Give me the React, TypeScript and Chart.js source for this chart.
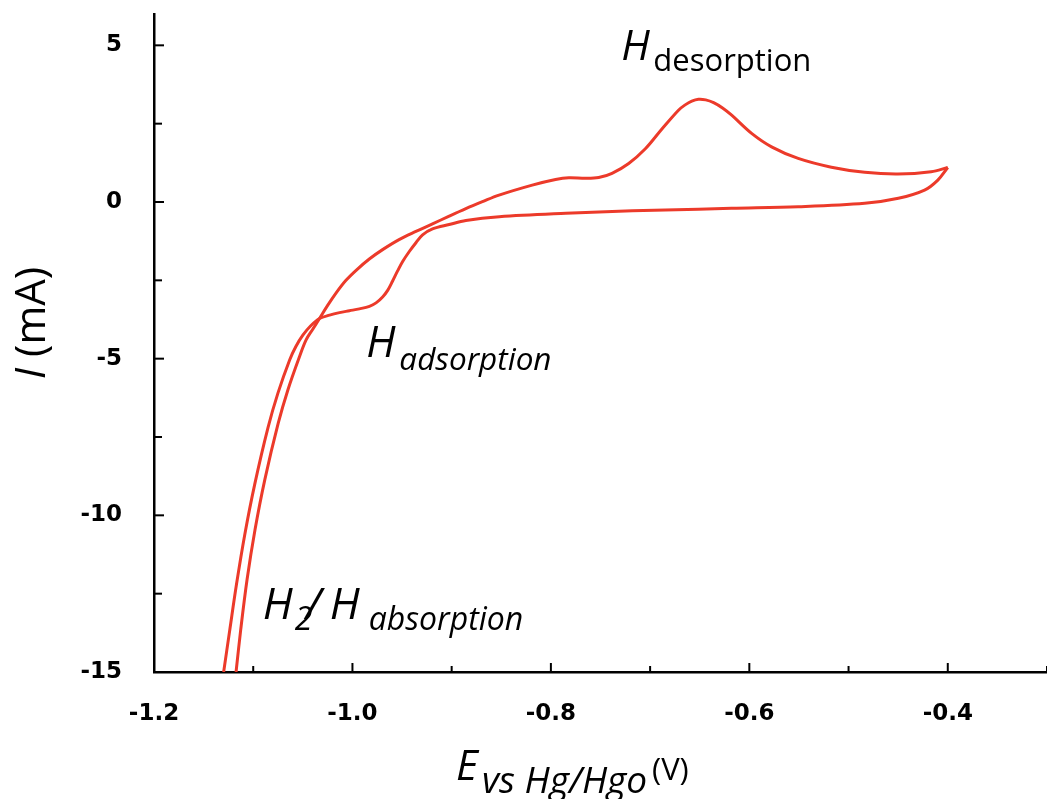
import React, { useEffect, useRef } from 'react';
import { Chart, registerables } from 'chart.js';

Chart.register(...registerables);

// ---- Data ----
// Cathodic sweep: from the -0.4 V vertex towards negative potentials
const cathodicE = [
  -0.400, -0.410, -0.4234, -0.4498, -0.4837, -0.5508, -0.618, -0.6513, -0.718, -0.785,
  -0.852, -0.8857, -0.9025, -0.9193, -0.9293, -0.936, -0.9427, -0.9494, -0.9545, -0.9595,
  -0.9645, -0.9696, -0.9762, -0.9829, -0.993, -1.003, -1.0131, -1.0231, -1.0332, -1.042,
  -1.050, -1.057, -1.0633, -1.0751, -1.0851, -1.0985, -1.1085, -1.1169, -1.1236, -1.1298,
];
const cathodicI = [
  1.10, 0.70, 0.38, 0.12, -0.04, -0.15, -0.20, -0.23, -0.28, -0.36,
  -0.47, -0.59, -0.72, -0.86, -1.05, -1.30, -1.58, -1.90, -2.20, -2.52,
  -2.82, -3.03, -3.22, -3.33, -3.41, -3.47, -3.53, -3.61, -3.72, -3.95,
  -4.25, -4.61, -5.04, -6.10, -7.20, -9.01, -10.61, -12.21, -13.65, -15.0,
];
// Anodic sweep: from -15 mA back to the -0.4 V vertex
const anodicE = [
  -1.1173, -1.1126, -1.1062, -1.0982, -1.0883, -1.0748, -1.0650, -1.0533, -1.0467, -1.0400,
  -1.0332, -1.025, -1.0164, -1.0065, -0.9963, -0.983, -0.9696, -0.953, -0.936, -0.9193,
  -0.9025, -0.8857, -0.869, -0.8523, -0.8188, -0.7953, -0.7819, -0.7651, -0.7518, -0.7384,
  -0.7216, -0.7048, -0.6881, -0.6714, -0.6647, -0.658, -0.6513, -0.644, -0.636, -0.627,
  -0.6178, -0.5977, -0.5776, -0.5508, -0.5173, -0.4837, -0.4503, -0.4168, -0.400,
];
const anodicI = [
  -15.0, -13.65, -12.05, -10.46, -8.86, -7.06, -5.99, -4.93, -4.40, -4.06,
  -3.72, -3.30, -2.90, -2.50, -2.18, -1.82, -1.52, -1.20, -0.94, -0.70,
  -0.45, -0.21, 0.01, 0.22, 0.54, 0.72, 0.775, 0.756, 0.78, 0.915,
  1.23, 1.70, 2.33, 2.93, 3.10, 3.22, 3.28, 3.26, 3.17, 3.00,
  2.77, 2.19, 1.76, 1.39, 1.11, 0.947, 0.893, 0.966, 1.10,
];

// Axis ranges and ticks
const X_MIN = -1.2;
const X_MAX = -0.3;
const X_STEP = 0.1;
const Y_MIN = -15;
const Y_MAX = 6;
const Y_STEP = 2.5;

const LINE_COLOR = 'rgb(236,58,42)';
const TICK_FONT = { family: 'DejaVu Sans', weight: 'bold' as const, size: 23 };

const isMajorX = (v: number) => Math.abs(Math.round(v * 10)) % 2 === 0;
const isMajorY = (v: number) => Math.abs(Math.round(v * 10)) % 50 === 0;

type Run = { text: string; font: string; dy?: number; gap?: number; at?: number };

function drawRuns(ctx: CanvasRenderingContext2D, x0: number, base: number, runs: Run[]) {
  let x = x0;
  ctx.textAlign = 'left';
  ctx.textBaseline = 'alphabetic';
  for (const r of runs) {
    if (r.at !== undefined) x = x0 + r.at;
    x += r.gap || 0;
    ctx.font = r.font;
    ctx.fillText(r.text, x, base + (r.dy || 0));
    x += ctx.measureText(r.text).width;
  }
}

function runsWidth(ctx: CanvasRenderingContext2D, runs: Run[]) {
  let w = 0;
  for (const r of runs) {
    ctx.font = r.font;
    w += ctx.measureText(r.text).width + (r.gap || 0);
  }
  return w;
}

const FONT = '"Open Sans"';

const decorPlugin = {
  id: 'decor',
  afterDraw(chart: any) {
    const { ctx, chartArea } = chart;
    const xs = chart.scales.x;
    const ys = chart.scales.y;
    ctx.save();
    // inward tick marks
    ctx.strokeStyle = '#000';
    ctx.lineWidth = 2;
    xs.ticks.forEach((t: any) => {
      const px = xs.getPixelForValue(t.value);
      if (px <= chartArea.left + 2) return;
      const len = isMajorX(t.value) ? 9 : 6;
      ctx.beginPath();
      ctx.moveTo(px, chartArea.bottom);
      ctx.lineTo(px, chartArea.bottom - len);
      ctx.stroke();
    });
    ys.ticks.forEach((t: any) => {
      const py = ys.getPixelForValue(t.value);
      if (py >= chartArea.bottom - 2) return;
      const len = isMajorY(t.value) ? 10 : 8;
      ctx.beginPath();
      ctx.moveTo(chartArea.left, py);
      ctx.lineTo(chartArea.left + len, py);
      ctx.stroke();
    });

    ctx.fillStyle = '#000';
    // annotations
    drawRuns(ctx, xs.getPixelForValue(-0.729), ys.getPixelForValue(4.53), [
      { text: 'H', font: `italic 42px ${FONT}` },
      { text: 'desorption', font: `normal 31px ${FONT}`, dy: 11, at: 32 },
    ]);
    drawRuns(ctx, xs.getPixelForValue(-0.986), ys.getPixelForValue(-4.94), [
      { text: 'H', font: `italic 43px ${FONT}` },
      { text: 'adsorption', font: `italic 31.5px ${FONT}`, dy: 13, at: 33 },
    ]);
    drawRuns(ctx, xs.getPixelForValue(-1.0905), ys.getPixelForValue(-13.3), [
      { text: 'H', font: `italic 44px ${FONT}` },
      { text: '2', font: `italic 32px ${FONT}`, dy: 11, at: 32 },
      { text: '/', font: `italic 44px ${FONT}`, at: 43 },
      { text: 'H', font: `italic 44px ${FONT}`, at: 67 },
      { text: 'absorption', font: `italic 32px ${FONT}`, dy: 11, at: 106 },
    ]);

    // x-axis title
    drawRuns(ctx, 456, 780, [
      { text: 'E', font: `italic 42px ${FONT}` },
      { text: 'vs Hg/Hgo', font: `italic 37px ${FONT}`, dy: 13, at: 26 },
      { text: '(V)', font: `normal 31px ${FONT}`, at: 196 },
    ]);

    // y-axis title (rotated)
    const yRuns: Run[] = [
      { text: 'I', font: `italic 42px ${FONT}` },
      { text: ' (mA)', font: `normal 42px ${FONT}` },
    ];
    ctx.translate(45, 323);
    ctx.rotate(-Math.PI / 2);
    const w = runsWidth(ctx, yRuns);
    drawRuns(ctx, -w / 2, 0, yRuns);
    ctx.restore();
  },
};

export default function App() {
  const ref = useRef<HTMLCanvasElement | null>(null);

  useEffect(() => {
    if (!ref.current) return;
    const toPts = (xs: number[], ys: number[]) => xs.map((x, i) => ({ x, y: ys[i] }));
    const chart = new Chart(ref.current, {
      type: 'scatter',
      data: {
        datasets: [
          {
            label: 'cathodic',
            data: toPts(cathodicE, cathodicI),
            showLine: true,
            borderColor: LINE_COLOR,
            borderWidth: 3,
            pointRadius: 0,
            tension: 0.35,
          },
          {
            label: 'anodic',
            data: toPts(anodicE, anodicI),
            showLine: true,
            borderColor: LINE_COLOR,
            borderWidth: 3,
            pointRadius: 0,
            tension: 0.35,
          },
        ],
      },
      options: {
        animation: false,
        responsive: false,
        maintainAspectRatio: false,
        layout: { padding: { top: 14, left: 0, right: 0, bottom: 0 } },
        plugins: {
          legend: { display: false },
          tooltip: { enabled: false },
        },
        scales: {
          x: {
            type: 'linear',
            min: X_MIN,
            max: X_MAX,
            grid: { display: false, drawTicks: false },
            border: { display: true, color: '#000', width: 2.5 },
            ticks: {
              stepSize: X_STEP,
              autoSkip: false,
              maxRotation: 0,
              padding: 28,
              color: '#000',
              font: TICK_FONT,
              callback: (v: any) => (isMajorX(Number(v)) ? Number(v).toFixed(1) : ''),
            },
            afterFit: (s: any) => {
              s.height = 127;
              s.paddingLeft = 0;
              s.paddingRight = 0;
            },
          },
          y: {
            type: 'linear',
            min: Y_MIN,
            max: Y_MAX,
            grid: { display: false, drawTicks: false },
            border: { display: true, color: '#000', width: 2.5 },
            ticks: {
              stepSize: Y_STEP,
              includeBounds: false,
              autoSkip: false,
              padding: 32,
              color: '#000',
              font: TICK_FONT,
              callback: (v: any) => (isMajorY(Number(v)) ? String(Number(v)) : ''),
            },
            afterFit: (s: any) => {
              s.width = 154;
              s.paddingTop = 0;
              s.paddingBottom = 0;
            },
          },
        },
      },
      plugins: [decorPlugin],
    });
    return () => chart.destroy();
  }, []);

  return (
    <div style={{ position: 'fixed', left: 0, top: 0, width: 1047, height: 799, background: '#fff' }}>
      <canvas ref={ref} width={1047} height={799} style={{ width: 1047, height: 799, display: 'block' }} />
    </div>
  );
}
